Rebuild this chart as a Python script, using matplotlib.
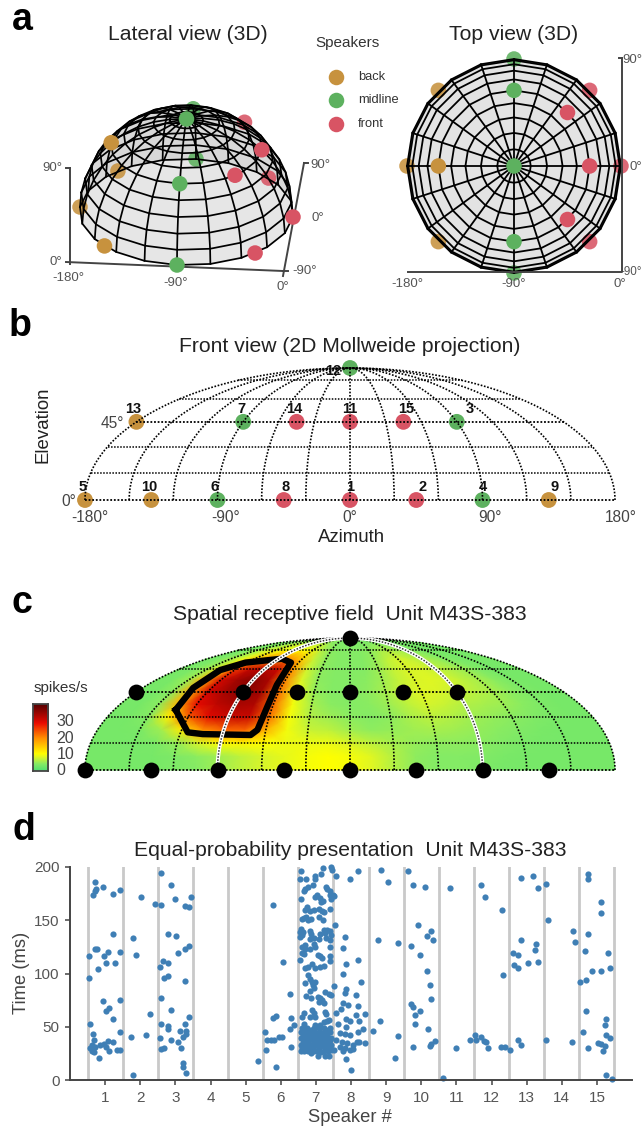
import numpy as np
import matplotlib
matplotlib.use("Agg")
import matplotlib.pyplot as plt
from matplotlib.collections import PolyCollection
from matplotlib.colors import LinearSegmentedColormap

plt.rcParams['font.family'] = ['Liberation Sans', 'DejaVu Sans']

W, H = 643, 1129

# speakers 1..15
speaker_az = [0, 45, 90, 90, -180, -90, -90, -45, 135, -135, 0, 0, -180, -45, 45]
speaker_el = [0, 0, 45, 0, 0, 0, 45, 0, 0, 0, 45, 90, 45, 45, 45]
speaker_group = ['front', 'front', 'mid', 'mid', 'back', 'mid', 'mid', 'front', 'back', 'back',
                 'front', 'mid', 'back', 'front', 'front']
legend_names = ['back', 'midline', 'front']

# heat map, firing rate in spikes/s: rows el 0-90 (7.5 deg), columns az -180..180 (15 deg)
rate_row_0 = [3, 3, 3, 3, 4, 4, 6, 7, 8, 9, 10, 10, 9, 7, 5, 4, 4, 4, 3, 3, 3, 3, 3, 3]
rate_row_1 = [3, 3, 3, 3, 4, 5, 6, 7, 8, 9, 10, 10, 9, 7, 5, 4, 4, 4, 4, 3, 3, 3, 3, 3]
rate_row_2 = [3, 3, 3, 4, 8, 14, 16, 14, 11, 8, 8, 7, 5, 5, 5, 5, 5, 5, 4, 4, 3, 3, 3, 3]
rate_row_3 = [3, 3, 4, 10, 26, 30, 31, 30, 12, 6, 6, 5, 4, 4, 5, 6, 6, 5, 5, 4, 4, 3, 3, 3]
rate_row_4 = [3, 3, 6, 26, 30, 32, 33, 32, 13, 7, 5, 4, 4, 4, 5, 7, 7, 6, 5, 5, 4, 4, 3, 3]
rate_row_5 = [3, 3, 5, 28, 32, 34, 36, 32, 12, 6, 4, 4, 4, 5, 6, 8, 8, 7, 6, 6, 5, 4, 3, 3]
rate_row_6 = [3, 3, 6, 29, 33, 37, 38, 31, 12, 5, 4, 4, 4, 5, 6, 8, 8, 8, 7, 6, 5, 4, 3, 3]
rate_row_7 = [3, 4, 7, 28, 32, 35, 35, 30, 10, 5, 4, 4, 4, 4, 6, 7, 8, 8, 7, 6, 5, 3, 3, 3]
rate_row_8 = [3, 4, 6, 14, 29, 31, 31, 28, 9, 5, 4, 4, 4, 4, 6, 8, 8, 7, 6, 5, 4, 3, 3, 3]
rate_row_9 = [3, 4, 6, 8, 10, 11, 12, 12, 9, 5, 4, 4, 4, 4, 5, 7, 7, 6, 5, 4, 3, 3, 3, 3]
rate_row_10 = [3, 4, 6, 8, 9, 9, 9, 8, 6, 4, 4, 4, 4, 4, 4, 5, 5, 4, 4, 3, 3, 3, 3, 3]
rate_row_11 = [3, 3, 4, 4, 4, 4, 4, 4, 4, 4, 3, 3, 3, 3, 3, 3, 3, 3, 3, 3, 3, 3, 3, 3]

# outline of the receptive field
contour_az = [-133, -115, -104, -70, -66, -64, -65, -69, -86, -122, -135, -136, -133]
contour_el = [34, 21, 20, 19.5, 22.4, 36, 49.5, 65, 68, 65, 59.5, 47.5, 34]

# spikes as (speaker position, time in ms)
spikes_1 = [(.70, 185.6), (.65, 174), (.72, 177), (.75, 179), (.93, 181), (1.22, 175), (1.43, 178),
            (.55, 116), (.70, 123), (.77, 123), (.97, 116), (1.07, 120.5), (1.03, 110), (1.28, 110),
            (1.41, 120.5), (1.21, 137), (.80, 104), (.55, 96), (.93, 74), (1.43, 75), (1.10, 68),
            (1.03, 65), (1.22, 57), (.57, 53), (.65, 43.5), (1.41, 45), (.67, 37.5), (.62, 33),
            (.71, 31), (.86, 33), (.97, 34), (1.07, 37), (1.22, 36), (.62, 27), (.69, 26), (.82, 21),
            (1.03, 31), (1.10, 27), (1.35, 28), (1.41, 28), (.57, 30)]
spikes_2 = [(1.79, 133), (1.88, 117), (2.02, 172), (2.41, 165), (1.74, 40), (2.17, 42), (2.27, 62), (1.79, 5)]
spikes_3 = [(2.58, 194), (2.60, 164), (2.88, 183), (2.98, 170), (3.26, 163), (3.40, 162), (3.44, 172),
            (2.79, 137), (3.02, 135.5), (2.64, 112), (2.79, 110), (2.55, 106), (2.69, 96), (2.79, 98),
            (3.07, 119), (3.26, 123), (3.39, 126), (3.26, 93), (2.60, 77), (2.88, 66), (3.40, 59),
            (2.60, 53), (2.79, 51), (2.79, 48), (3.26, 53), (3.12, 46), (3.31, 46), (3.31, 43.5),
            (2.55, 39.5), (2.88, 38), (3.07, 36), (3.21, 40), (3.17, 30), (2.60, 29), (2.69, 30),
            (3.21, 16), (3.21, 12), (3.31, 7)]
spikes_5 = [(5.35, 18)]
spikes_6 = [(5.56, 45), (5.59, 28), (5.61, 38), (5.73, 38), (5.81, 38), (5.94, 40), (6.03, 40), (5.86, 12),
            (5.78, 164), (6.06, 111), (6.25, 81), (5.87, 60), (5.78, 58), (6.30, 58), (6.25, 48),
            (6.38, 52), (6.30, 31)]
spikes_7_upper = [(6.59, 196), (6.56, 189), (6.73, 189), (6.97, 192), (6.98, 189), (7.15, 193), (7.2, 199),
                  (7.43, 200), (7.46, 197), (6.92, 183), (6.79, 181), (6.70, 179), (6.65, 177), (7.3, 181),
                  (7.33, 179), (7.39, 177), (7.41, 174), (7.03, 174), (6.98, 172), (7.13, 170.5), (7.19, 168),
                  (7.49, 174), (6.59, 170), (7.43, 170), (7.15, 167), (6.75, 162), (6.84, 159), (6.95, 160),
                  (7.08, 161), (7.18, 159), (7.22, 158), (7.39, 161), (6.70, 160), (6.73, 153), (6.65, 152),
                  (6.60, 151), (6.79, 150), (6.86, 151), (7.08, 153), (7.2, 150), (6.59, 142), (6.56, 139),
                  (6.6, 136), (6.63, 139), (6.56, 134), (6.84, 140), (6.86, 137), (6.95, 133), (6.82, 132),
                  (7.22, 141), (7.32, 141), (7.39, 140), (7.27, 138), (7.3, 133), (7.44, 136), (7.13, 137),
                  (7.1, 132), (7.41, 131), (6.7, 127), (6.6, 119), (6.7, 123), (6.6, 125), (6.84, 123),
                  (6.94, 128), (6.98, 125), (7.39, 125), (6.56, 113), (6.65, 118), (7.11, 116), (7.05, 117),
                  (7.18, 115), (7.39, 116), (7.39, 112), (6.7, 105), (6.79, 106), (6.89, 109), (6.98, 105),
                  (7.13, 106), (7.22, 107)]
spikes_7_middle = [(6.68, 91), (6.79, 99), (6.84, 95), (6.89, 92), (6.98, 92), (6.92, 89), (6.96, 86), (6.84, 84),
                   (6.73, 79), (6.86, 77), (7.06, 78), (7.13, 77), (7.18, 75), (7.22, 72), (7.08, 73.5),
                   (7.27, 83), (7.36, 81), (7.43, 80), (7.3, 62), (6.89, 66), (6.94, 63), (6.98, 59.5),
                   (6.84, 59.5), (6.65, 63), (6.6, 59.5), (7.27, 64), (7.36, 56), (7.32, 55), (7.22, 54),
                   (7.13, 52), (6.98, 52), (6.67, 53)]
spikes_7_lower = [(6.60, 48.5), (6.75, 48.5), (6.94, 48.5), (7.08, 48.5), (7.22, 48.5), (7.39, 48.5),
                  (6.58, 45), (6.70, 45), (6.84, 45), (6.98, 45), (7.13, 45), (7.27, 45), (7.41, 45),
                  (6.63, 42), (6.79, 42), (6.92, 42), (7.03, 42), (7.2, 42), (7.33, 42),
                  (6.58, 39), (6.73, 39), (6.86, 39), (7.01, 39), (7.15, 39), (7.3, 39), (7.43, 39),
                  (6.63, 36), (6.77, 36), (6.96, 36), (7.08, 36), (7.22, 36), (7.36, 36),
                  (6.58, 33), (6.70, 33), (6.84, 33), (7.01, 33), (7.18, 33), (7.32, 33), (7.43, 33),
                  (6.60, 30), (6.75, 30), (6.89, 30), (7.08, 30), (7.27, 30), (7.39, 30),
                  (6.65, 27), (6.79, 27), (6.94, 27), (7.22, 27), (7.34, 27),
                  (7.06, 22.5), (7.27, 22.5), (7.36, 22.5),
                  (6.66, 43.5), (6.86, 47), (7.05, 43.5), (7.3, 47), (6.68, 37.5), (6.8, 37.5), (6.94, 37.5),
                  (7.08, 37.5), (7.24, 37.5), (7.4, 37.5), (6.66, 31.5), (6.8, 31.5), (6.94, 31.5), (7.13, 31.5),
                  (7.25, 31.5), (6.58, 27.5), (6.72, 28.5), (6.86, 25.5), (7.02, 27), (7.14, 26), (7.43, 28)]
spikes_8 = [(7.58, 192), (8.2, 196), (7.96, 189), (7.53, 173), (7.55, 146), (7.82, 134), (7.77, 124), (8.2, 113),
            (7.86, 109), (7.77, 100), (8.29, 92), (7.53, 88), (7.86, 85.5), (7.82, 82), (8.15, 80), (7.77, 72),
            (7.91, 70), (8.2, 69.5), (7.72, 67), (7.58, 63), (8.15, 61), (8.39, 62), (7.86, 57), (7.96, 55),
            (8.24, 55), (7.63, 53), (7.86, 50), (8.34, 48), (8.2, 45), (7.68, 44), (7.82, 43), (7.96, 42),
            (7.58, 37.5), (7.74, 36), (7.89, 35), (8.17, 36), (8.24, 36), (8.39, 35), (7.68, 31), (7.84, 30),
            (7.98, 28), (8.07, 29), (7.77, 27.5), (7.86, 20), (8.0, 9), (7.52, 28), (8.07, 33)]
spikes_9 = [(8.63, 46), (8.82, 55), (9.34, 41), (9.25, 21), (8.86, 197), (9.05, 186), (8.76, 131), (9.34, 129)]
spikes_10 = [(9.62, 196), (9.77, 183), (10.1, 181), (9.91, 146), (10.29, 140), (10.15, 135), (10.34, 131),
             (9.72, 126), (9.96, 117), (10.15, 102), (10.24, 89), (10.29, 76), (9.72, 71), (9.77, 69),
             (9.96, 65), (9.81, 61), (9.81, 53), (10.2, 48), (10.39, 37), (10.29, 33.5), (10.24, 32), (9.77, 31)]
spikes_11 = [(10.81, 180), (10.62, 2), (11.0, 30), (11.38, 38)]
spikes_12 = [(11.71, 183), (11.81, 172), (12.3, 160), (12.33, 99), (11.52, 42), (11.57, 38), (11.71, 40),
             (11.78, 37), (11.85, 36), (11.9, 30), (12.28, 31), (12.38, 31), (12.54, 28)]
spikes_13 = [(12.85, 190), (13.18, 192), (13.32, 180), (13.56, 184), (13.61, 150), (12.85, 131), (13.28, 128),
             (13.23, 122), (12.6, 119), (12.75, 117), (13.32, 111), (13.04, 110), (12.65, 108), (12.75, 105),
             (12.75, 38), (12.85, 33), (13.55, 38)]
spikes_14 = [(14.32, 140), (14.37, 130), (14.28, 36)]
spikes_15 = [(14.75, 193), (14.75, 189), (15.13, 167), (15.13, 157), (14.75, 137), (14.65, 121), (15.32, 119),
             (15.37, 105), (14.85, 102), (15.13, 102), (14.53, 92), (14.7, 94), (14.7, 65), (15.27, 57),
             (15.22, 52), (14.6, 45), (15.27, 42), (15.37, 39), (15.04, 35), (15.13, 34), (15.22, 32),
             (14.75, 30), (15.18, 27), (15.27, 5), (15.42, 1)]

colors = {'back': '#C7923E', 'mid': '#5DB15F', 'front': '#D85464'}
ink = '#444444'
title_kw = dict(fontsize=15.2, color='#222222', ha='center', va='center')


def px_axes(x0, y0, x1, y1):
    return fig.add_axes([x0 / W, 1 - y1 / H, (x1 - x0) / W, (y1 - y0) / H])


def mollweide(az, el):
    az = np.radians(np.asarray(az, dtype=float))
    el = np.radians(np.asarray(el, dtype=float))
    theta = el.copy()
    for _ in range(60):
        d = 2 * theta + np.sin(2 * theta) - np.pi * np.sin(el)
        theta = theta - d / (2 + 2 * np.cos(2 * theta) + 1e-9)
    return az / np.pi * np.cos(theta), 0.5 * np.sin(theta)


def dotted_grid(a):
    for az in np.arange(-180, 181, 30):
        x, y = mollweide(np.full(61, az), np.linspace(0, 90, 61))
        a.plot(x, y, color='black', lw=1.2, ls=(0, (1, 1)), zorder=3)
    for el in np.arange(0, 76, 15):
        x, y = mollweide(np.linspace(-180, 180, 61), np.full(61, el))
        a.plot(x, y, color='black', lw=1.3 if el % 45 == 0 else 1.1, ls=(0, (1, 1)), zorder=3)


def moll_axes(y_zero):
    # 265 px per unit, centred on az 0
    a = px_axes(350 - 290, y_zero - 150, 350 + 290, y_zero + 15)
    a.set_xlim(-290 / 265, 290 / 265)
    a.set_ylim(-15 / 264, 150 / 264)
    a.axis('off')
    return a


def project(az, el, origin, ex, ey, ez):
    az = np.radians(np.asarray(az, dtype=float))
    el = np.radians(np.asarray(el, dtype=float))
    a = np.cos(el) * np.cos(az)
    b = np.cos(el) * np.sin(az)
    c = np.sin(el)
    return (origin[0] + a * ex[0] + b * ey[0] + c * ez[0],
            origin[1] + a * ex[1] + b * ey[1] + c * ez[1])


def dome(ax, view, alpha, behind, lw):
    az_speak = np.array(speaker_az)
    el_speak = np.array(speaker_el)
    group_col = [colors[g] for g in speaker_group]
    is_behind = np.array([(i + 1) in behind for i in range(15)])
    x, y = project(az_speak, el_speak, *view)
    faces = []
    for az0 in np.arange(-180, 180, 18):
        for el0 in np.arange(0, 90, 9):
            fx, fy = project([az0, az0 + 18, az0 + 18, az0], [el0, el0, el0 + 9, el0 + 9], *view)
            faces.append(np.column_stack([fx, fy]))
    ax.add_collection(PolyCollection(faces, facecolors='#c8c8c8', edgecolors='none', alpha=alpha, zorder=2))
    ax.scatter(x[is_behind], y[is_behind], s=125, c=[c for c, b in zip(group_col, is_behind) if b],
               linewidths=0, alpha=0.88, zorder=3)
    for az0 in np.arange(-180, 180, 18):
        mx, my = project(np.full(11, az0), np.arange(0, 91, 9), *view)
        ax.plot(mx, my, color='black', lw=lw, zorder=4, solid_joinstyle='round')
    for el0 in np.arange(0, 90, 9):
        mx, my = project(np.arange(-180, 181, 18), np.full(21, el0), *view)
        ax.plot(mx, my, color='black', lw=lw, zorder=4, solid_joinstyle='round')
    ax.scatter(x[~is_behind], y[~is_behind], s=125, c=[c for c, b in zip(group_col, is_behind) if not b],
               linewidths=0, zorder=5)


fig = plt.figure(figsize=(W / 100, H / 100), dpi=100)

# overlay in pixel units for panel a and the panel letters
top = px_axes(0, 0, W, H)
top.set_xlim(0, W)
top.set_ylim(H, 0)
top.axis('off')

for letter, lx, ly in [('a', 22, 20), ('b', 20, 326), ('c', 22, 603), ('d', 24, 830)]:
    top.text(lx, ly, letter, fontsize=27, fontweight='bold', ha='center', va='center', color='black')

# panel a, lateral view
lateral = ((186.5, 212), (106.5, 5), (9.5, -53), (0, -93))
dome(top, lateral, 0.45, [2, 3, 4, 5, 9, 15], 1.25)
top.text(188, 35, 'Lateral view (3D)', **title_kw)
top.plot([70, 70], [168, 264], color=ink, lw=1.4, zorder=1)
top.plot([66, 70], [168, 168], color=ink, lw=1.4, zorder=1)
top.plot([66, 283], [262, 271], color=ink, lw=1.4, zorder=1)
top.plot([283, 304], [276, 163], color=ink, lw=1.4, zorder=1)
top.plot([304, 308], [163, 163], color=ink, lw=1.4, zorder=1)
top.plot([283, 288], [271, 271], color=ink, lw=1.4, zorder=1)
tick_kw = dict(fontsize=9.5, color='#555555', ha='center', va='center')
for tx, ty, label in [(52, 168, '90°'), (56, 262, '0°'), (68, 278, '-180°'), (176, 283, '-90°'),
                      (283, 287, '0°'), (305, 271, '-90°'), (318, 218, '0°'), (320, 165, '90°')]:
    top.text(tx, ty, label, **tick_kw)

# panel a, top view
overhead = ((514, 166), (107, 0), (0, -107), (0, 0))
dome(top, overhead, 0.5, [1, 2, 4, 5, 6, 8, 9, 10], 1.3)
top.text(514, 35, 'Top view (3D)', **title_kw)
top.plot([408, 622, 622], [272, 272, 58], color=ink, lw=1.4, zorder=6)
top.plot([619, 622], [58, 58], color=ink, lw=1.4, zorder=6)
for tx, ty, label in [(407, 284, '-180°'), (514, 284, '-90°'), (620, 284, '0°'),
                      (636, 167, '0°'), (632, 60, '90°')]:
    top.text(tx, ty, label, **tick_kw)
top.text(642, 272, '-90°', fontsize=8.4, color='#555555', ha='right', va='center')

# legend
top.text(347, 43, 'Speakers', fontsize=11, color='#333333', ha='center', va='center')
for name, key, ly in zip(legend_names, ['back', 'mid', 'front'], [77, 100, 124]):
    top.scatter([336], [ly], s=125, c=colors[key], linewidths=0)
    top.text(358, ly, name, fontsize=9.3, color='#333333', ha='left', va='center')

# panel b
ax_b = moll_axes(500)
dotted_grid(ax_b)
sx, sy = mollweide(speaker_az, speaker_el)
ax_b.scatter(sx, sy, s=130, c=[colors[g] for g in speaker_group], linewidths=0, zorder=2, clip_on=False)
number_offsets = {1: (0, 9.5), 2: (4.5, 9.5), 3: (9, 9.5), 4: (0, 9.5), 5: (-1.5, 9.5), 6: (-2, 9.5), 7: (-1, 9.5),
                  8: (1, 9.5), 9: (4, 9.5), 10: (-1.5, 9.5), 11: (0, 9.5), 12: (-12, -2), 13: (-2, 9.5),
                  14: (-2, 9.5), 15: (2, 9.5)}
for i in range(15):
    ax_b.annotate(str(i + 1), (sx[i], sy[i]), xytext=number_offsets[i + 1], textcoords='offset points',
                  fontsize=10.5, fontweight='bold', ha='center', va='center', color='#111111', zorder=5)
top.text(350, 347, 'Front view (2D Mollweide projection)', **title_kw)
top.text(43, 425, 'Elevation', rotation=90, fontsize=13.4, color='#222222', ha='center', va='center')
top.text(352, 538, 'Azimuth', fontsize=13.4, color='#222222', ha='center', va='center')
b_kw = dict(fontsize=11.2, color='#444444', ha='center', va='center')
for tx, ty, label in [(90, 517, '-180°'), (226, 517, '-90°'), (350, 517, '0°'), (490, 517, '90°'),
                      (621, 517, '180°'), (112, 423, '45°'), (69, 502, '0°')]:
    top.text(tx, ty, label, **b_kw)

# panel c
ax_c = moll_axes(770)
rates = np.array([rate_row_0, rate_row_1, rate_row_2, rate_row_3, rate_row_4, rate_row_5,
                  rate_row_6, rate_row_7, rate_row_8, rate_row_9, rate_row_10, rate_row_11], dtype=float)
az_edges = np.arange(-180, 181, 15)
el_edges = np.arange(0, 90.1, 7.5)
AZ, EL = np.meshgrid(az_edges, el_edges)
mx, my = mollweide(AZ, EL)
# cell values to corner values so the map can be shaded smoothly
padded = np.pad(rates, 1, mode='edge')
corners = (padded[:-1, :-1] + padded[1:, :-1] + padded[:-1, 1:] + padded[1:, 1:]) / 4
rf_cmap = LinearSegmentedColormap.from_list('rf', [(0, '#50E070'), (0.1, '#85EB65'), (0.19, '#D8F52A'),
                                                   (0.25, '#FFFF00'), (0.5, '#FF8A00'), (0.72, '#EA0A00'),
                                                   (1, '#560000')])
ax_c.pcolormesh(mx, my, corners, cmap=rf_cmap, vmin=0, vmax=40, shading='gouraud', zorder=1)
dotted_grid(ax_c)
cx, cy = mollweide(contour_az, contour_el)
ax_c.plot(cx, cy, color='black', lw=4.6, solid_joinstyle='round', zorder=4)
for az in [-90, 90]:
    mer_x, mer_y = mollweide(np.full(61, az), np.linspace(0, 90, 61))
    ax_c.plot(mer_x, mer_y, color='white', lw=2.8, zorder=5)
    ax_c.plot(mer_x, mer_y, color='#333333', lw=1.1, ls=(0, (1, 1)), zorder=6)
ax_c.scatter(sx, sy, s=130, c='black', linewidths=0, zorder=7, clip_on=False)
top.text(350, 615, 'Spatial receptive field  Unit M43S-383', **title_kw)
top.text(61, 688, 'spikes/s', fontsize=11, color='#333333', ha='center', va='center')

cbar = px_axes(33, 704, 48, 771)
cbar.imshow(np.linspace(40, 0, 64)[:, None], cmap=rf_cmap, vmin=0, vmax=40, aspect='auto',
            extent=[0, 1, -1, 40])
cbar.set_xticks([])
cbar.yaxis.tick_right()
cbar.set_yticks([0, 10, 20, 30])
cbar.tick_params(axis='y', length=0, labelsize=11.5, labelcolor='#444444', pad=6)
for s in cbar.spines.values():
    s.set_color('#444444')
    s.set_linewidth(1.3)

# panel d
ax_d = px_axes(70, 867, 632, 1080)
for edge in np.arange(0.5, 15.6, 1):
    ax_d.axvline(edge, color='#C9C9C9', lw=2.0, zorder=1)
spikes = np.array(spikes_1 + spikes_2 + spikes_3 + spikes_5 + spikes_6 + spikes_7_upper + spikes_7_middle
                  + spikes_7_lower + spikes_8 + spikes_9 + spikes_10 + spikes_11 + spikes_12 + spikes_13
                  + spikes_14 + spikes_15)
ax_d.scatter(spikes[:, 0], spikes[:, 1], s=20, c='#3F7FB5', linewidths=0, zorder=2, clip_on=False)
ax_d.set_xlim(0, 16)
ax_d.set_ylim(0, 200)
ax_d.set_xticks(np.arange(1, 16))
ax_d.set_yticks([0, 50, 100, 150, 200])
ax_d.tick_params(axis='both', labelsize=11, labelcolor='#555555', color=ink, length=3.6, width=1.1, pad=4)
ax_d.spines['top'].set_visible(False)
ax_d.spines['right'].set_visible(False)
ax_d.spines['left'].set_color(ink)
ax_d.spines['bottom'].set_color(ink)
ax_d.spines['left'].set_linewidth(1.4)
ax_d.spines['bottom'].set_linewidth(1.4)
top.text(350, 851, 'Equal-probability presentation  Unit M43S-383', **title_kw)
top.text(22, 973, 'Time (ms)', rotation=90, fontsize=13.2, color='#444444', ha='center', va='center')
top.text(350, 1118, 'Speaker #', fontsize=13.2, color='#444444', ha='center', va='center')

fig.savefig('out.png', dpi=100)
